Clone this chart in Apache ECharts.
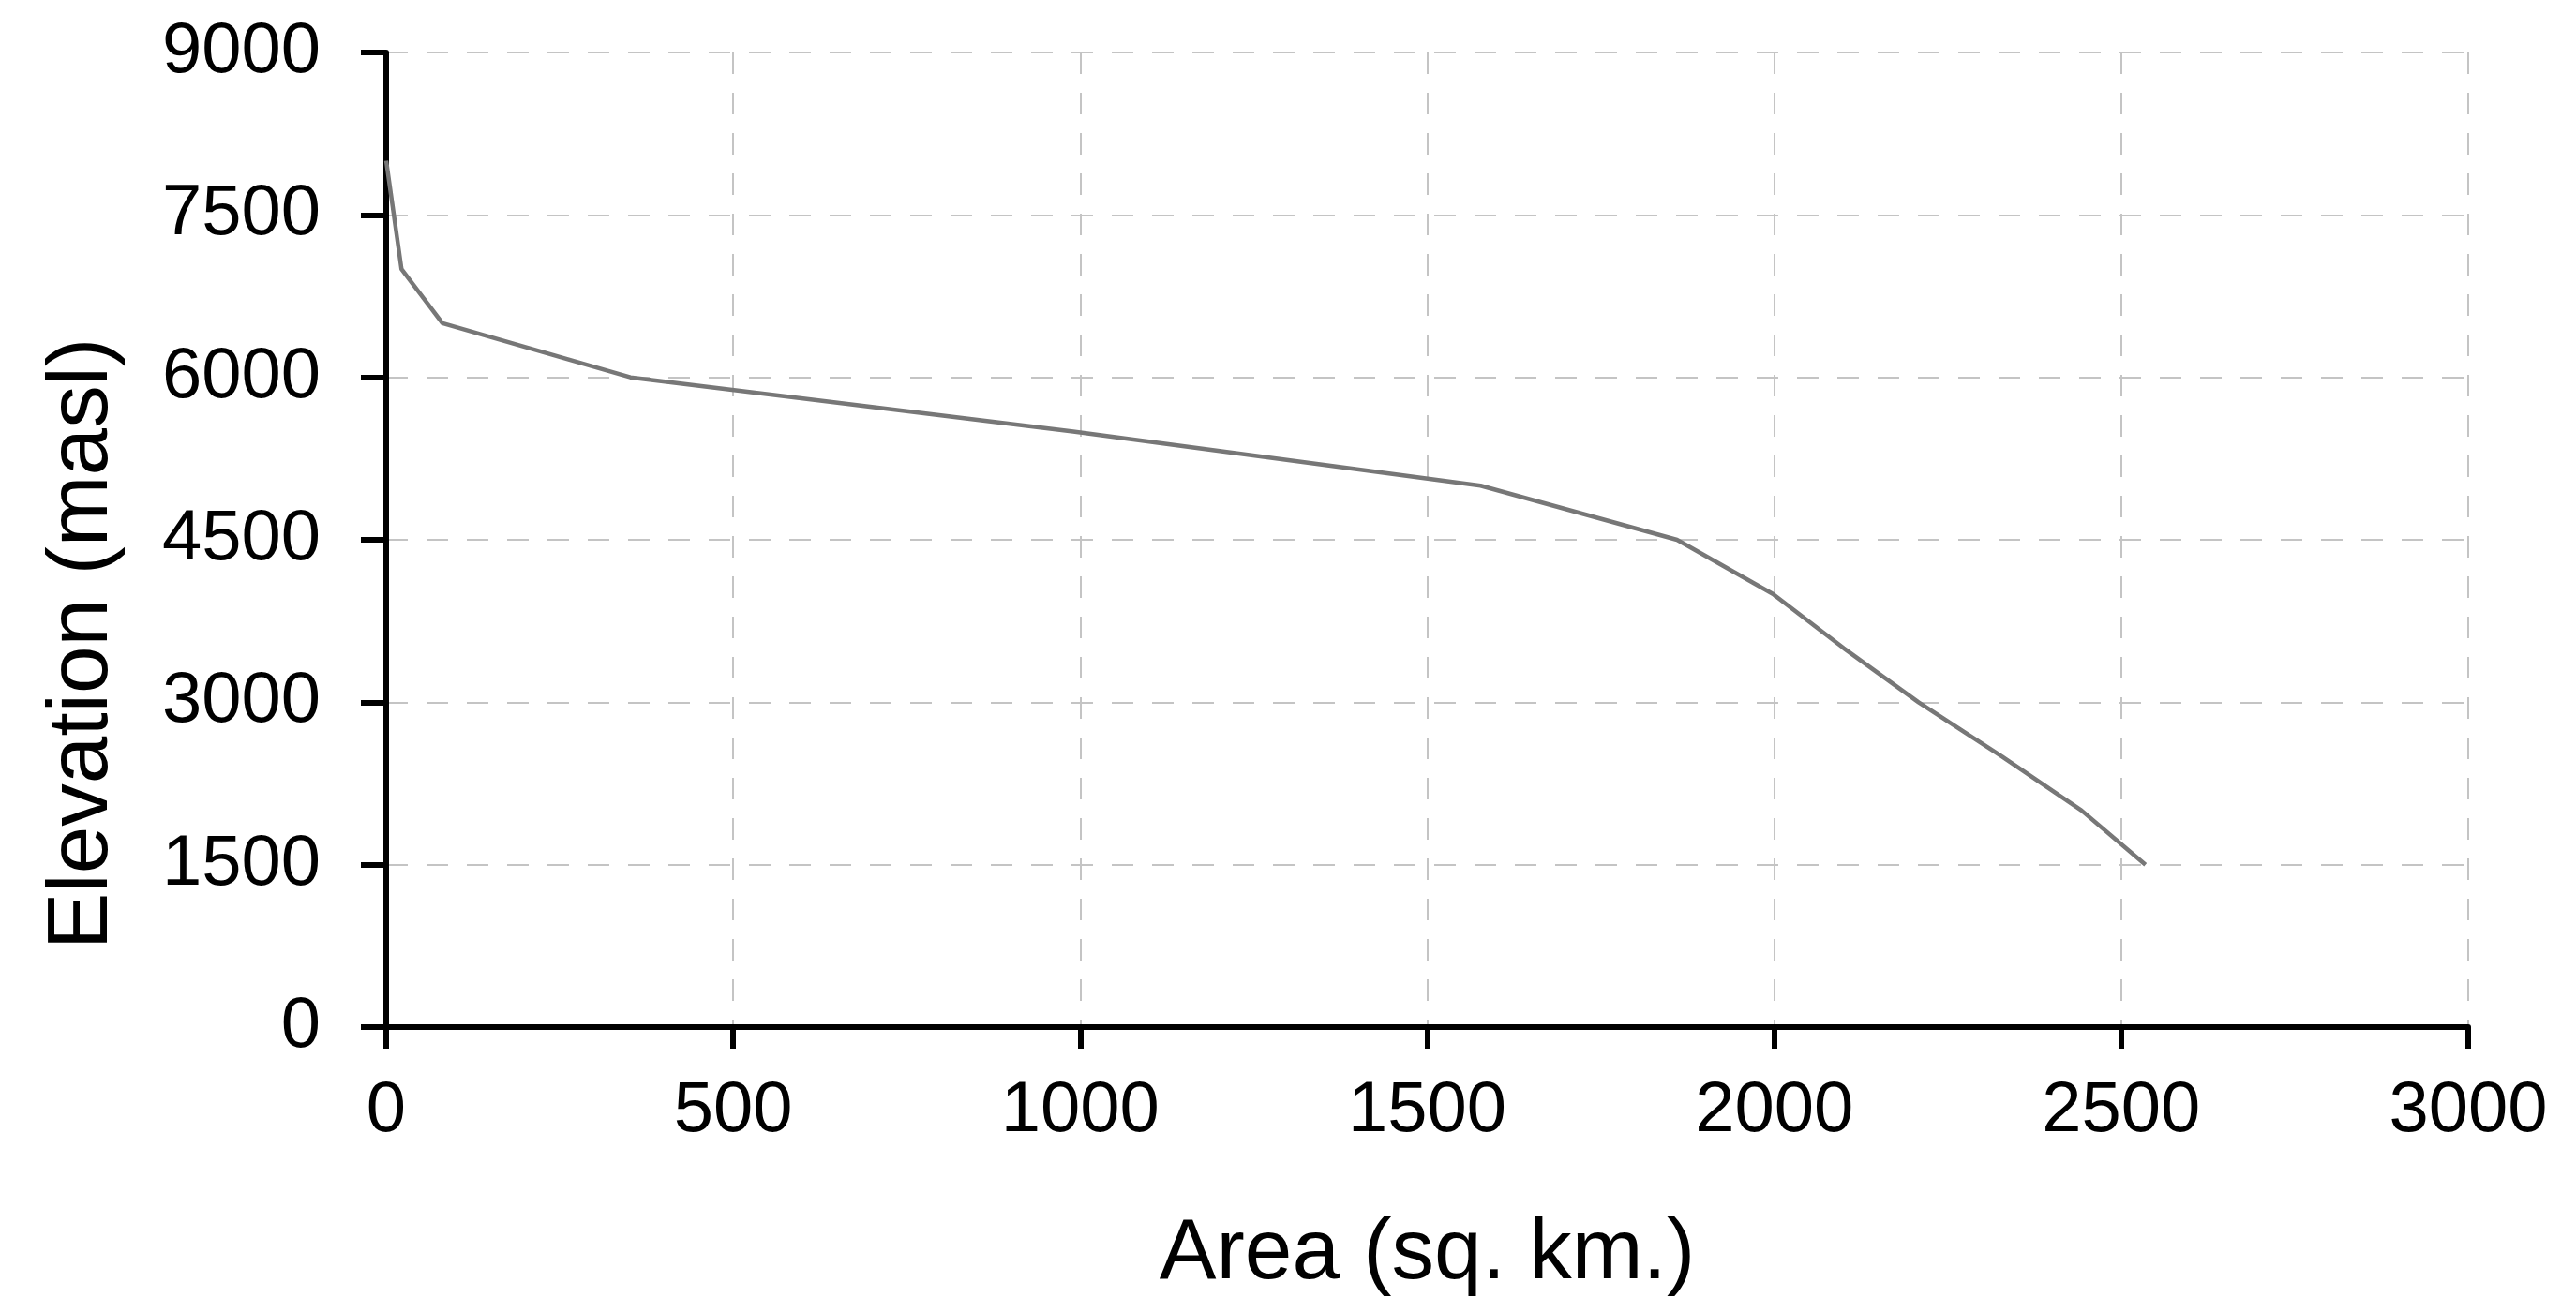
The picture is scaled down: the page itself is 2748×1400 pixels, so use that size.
<!DOCTYPE html>
<html>
<head>
<meta charset="utf-8">
<script src="https://cdn.jsdelivr.net/npm/echarts@6/dist/echarts.min.js"></script>
<style>
html,body{margin:0;padding:0;background:#fff;}
#chart{width:2748px;height:1400px;}
</style>
</head>
<body>
<div id="chart"></div>
<script>
// Data (area in sq. km, elevation in masl)
const areaValues = [0, 22, 81, 352, 990, 1577, 1860, 1998, 2100, 2208, 2328, 2443, 2535];
const elevationValues = [8000, 7000, 6500, 6000, 5500, 5000, 4500, 4000, 3500, 3000, 2500, 2000, 1500];
const xTicks = [0, 500, 1000, 1500, 2000, 2500, 3000];
const yTicks = [0, 1500, 3000, 4500, 6000, 7500, 9000];
const xTitle = 'Area (sq. km.)';
const yTitle = 'Elevation (masl)';

const points = areaValues.map((a, i) => [a, elevationValues[i]]);
const font = '"Liberation Sans", Arial, sans-serif';
const plain = v => String(v);

const chart = echarts.init(document.getElementById('chart'), null, {renderer: 'canvas'});
chart.setOption({
  animation: false,
  backgroundColor: '#ffffff',
  grid: {left: 412, right: 115, top: 56, bottom: 304, containLabel: false},
  xAxis: {
    type: 'value',
    min: xTicks[0], max: xTicks[xTicks.length - 1], interval: 500,
    name: xTitle, nameLocation: 'middle', nameGap: 197,
    nameTextStyle: {fontFamily: font, fontSize: 91, color: '#000'},
    axisLine: {show: true, onZero: false, lineStyle: {color: '#000', width: 6}},
    axisTick: {show: true, inside: false, length: 23, lineStyle: {color: '#000', width: 6}},
    axisLabel: {fontFamily: font, fontSize: 76, color: '#000', margin: 52, formatter: plain},
    splitLine: {show: true, lineStyle: {color: '#c4c4c4', width: 2, type: [23, 20]}}
  },
  yAxis: {
    type: 'value',
    min: yTicks[0], max: yTicks[yTicks.length - 1], interval: 1500,
    name: yTitle, nameLocation: 'middle', nameGap: 278, nameRotate: 90,
    nameTextStyle: {fontFamily: font, fontSize: 91, color: '#000', padding: [0, 222, 0, 0]},
    axisLine: {show: true, onZero: false, lineStyle: {color: '#000', width: 6}},
    axisTick: {show: true, inside: false, length: 27, lineStyle: {color: '#000', width: 6}},
    axisLabel: {fontFamily: font, fontSize: 76, color: '#000', margin: 70, formatter: plain},
    splitLine: {show: true, lineStyle: {color: '#c4c4c4', width: 2, type: [23, 20]}}
  },
  series: [{
    type: 'line',
    data: points,
    showSymbol: false,
    symbol: 'none',
    lineStyle: {color: '#777777', width: 4.5},
    z: 3
  }]
});
</script>
</body>
</html>
